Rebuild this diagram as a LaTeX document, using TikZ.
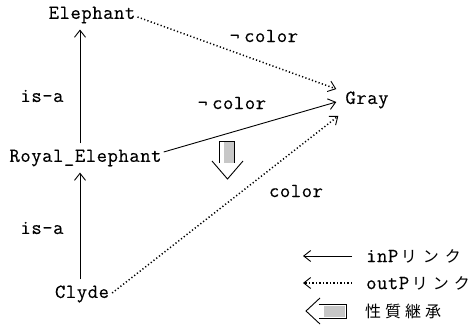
\documentclass[tikz,border=0pt]{standalone}
\usepackage{fontspec}
\setmonofont[LetterSpace=3,FakeBold=0.4]{Latin Modern Mono}
\newfontfamily\jpfont{Noto Sans CJK JP}
\usetikzlibrary{arrows.meta,calc}

\tikzset{
  term/.style={font=\ttfamily\fontsize{20}{20}\selectfont, inner xsep=1pt, inner ysep=6pt, anchor=center},
  lab/.style={font=\ttfamily\fontsize{20}{20}\selectfont, inner sep=0pt},
  inP/.style={line width=0.9pt, -{Straight Barb[length=7pt,width=11pt,line width=0.9pt]}},
  outP/.style={line width=1.5pt, dash pattern=on 1.2pt off 2.3pt,
    -{Straight Barb[length=7pt,width=11pt,line width=0.9pt]}},
  fatline/.style={line width=0.9pt, line join=miter},
  fatfill/.style={fill=black!22, draw=none}
}
\newcommand{\kata}[1]{{\jpfont\fontsize{16}{16}\selectfont #1}}
\newcommand{\notsym}{{\fontsize{18}{18}\selectfont\ttfamily ¬}}

\begin{document}
\begin{tikzpicture}[x=1pt,y=-1pt]
  \useasboundingbox (0,0) rectangle (474,334);

  % concepts
  \node[term] (eleph) at (92,15)   {Elephant};
  \node[term] (royal) at (85.5,158) {Royal\_Elephant};
  \node[term] (clyde) at (82,294)  {Clyde};
  \node[term] (gray)  at (367,100) {Gray};
  \coordinate (axis) at (80,0);

  % is-a links
  \draw[inP] (royal.north -| axis) -- (eleph.south -| axis);
  \draw[inP] (clyde.north -| axis) -- (royal.south -| axis);
  \node[lab] at (42,96)  {is-a};
  \node[lab] at (42,228) {is-a};

  % property links
  \draw[outP] ([xshift=1pt,yshift=-2pt]eleph.east) -- ([xshift=-8pt,yshift=11pt]gray.west);
  \draw[inP]  ([xshift=1pt,yshift=6pt]royal.east) -- ([xshift=-8pt,yshift=-2pt]gray.west);
  \draw[outP] ([xshift=2pt,yshift=1pt]clyde.east) -- ([xshift=-6pt,yshift=-16pt]gray.west);
  \node[lab] at (264,36)  {\notsym\hspace{5pt}color};
  \node[lab] at (232,103) {\notsym\hspace{5pt}color};
  \node[lab] at (296,191) {color};

  % inheritance arrow
  \fill[fatfill] (224,142) rectangle (233.5,163);
  \draw[fatline] (219,163) -- (219,141) -- (234,141) -- (234,163);
  \draw[fatline] (212,161) -- (227.5,179) -- (243,161);

  % legend
  \node[lab, anchor=west] (lin)  at (366,256) {inP\kata{\,リ\hspace{6pt}ン\hspace{6pt}ク}};
  \node[lab, anchor=west] (lout) at (366,283) {outP\kata{\,リ\hspace{5pt}ン\hspace{5pt}ク}};
  \node[anchor=west, inner sep=0pt] (linh) at (365,311)
    {\kata{性\hspace{4pt}質\hspace{4pt}継\hspace{4pt}承}};
  \coordinate (lin0)  at (303,256);
  \coordinate (lout0) at (303,283);
  \draw[inP]  ([xshift=-14pt]lin.west) -- (lin0);
  \draw[outP] ([xshift=-14pt]lout.west) -- (lout0);
  \fill[fatfill] (324,306) rectangle (345,316.5);
  \draw[fatline] (320,298) -- (306,311) -- (320,324);
  \draw[fatline] (318.5,304) -- (346,304) -- (346,318) -- (318.5,318);
\end{tikzpicture}
\end{document}
